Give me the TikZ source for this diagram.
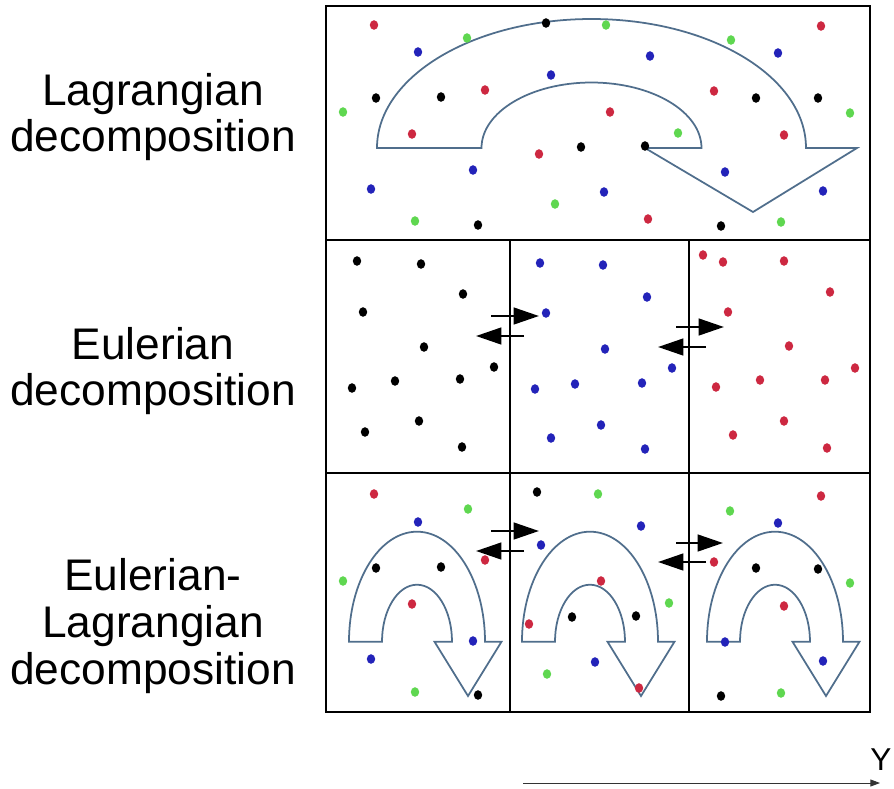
\documentclass[tikz,border=0pt]{standalone}
\usepackage{fontspec}
\setmainfont{Liberation Sans}
\usepackage{xcolor}
\usepackage{tikz}
\usetikzlibrary{positioning,arrows.meta,calc}

\definecolor{ptred}{RGB}{205,40,65}
\definecolor{ptgreen}{RGB}{95,215,80}
\definecolor{ptblue}{RGB}{35,35,185}
\definecolor{flowblue}{RGB}{80,110,140}

\begin{document}
\begin{tikzpicture}[
    x=0.02cm, y=-0.02cm,
    panel/.style={draw, line width=1.6pt},
    flow/.style={draw=flowblue, line width=1pt, line join=miter},
    exchange/.style={-{Triangle[length=14.5pt, width=9.5pt]}, line width=1.5pt},
    axis/.style={-{Triangle[length=5.5pt, width=4pt]}, line width=0.5pt, black!80},
    label/.style={align=center, font=\fontsize{25.2}{26.7}\selectfont},
    >=Stealth
]
\useasboundingbox (0,0) rectangle (894,789);

% Labels
\node[label] (lagr) at (153,117) {Lagrangian\\decomposition};
\node[label] (euler) at (153,371) {Eulerian\\decomposition};
\node[label] (eulag) at (153,626) {Eulerian-\\Lagrangian\\decomposition};

% Panels and cell walls
\draw[panel] (326,6) rectangle (870,712);
\draw[panel] (326,240) -- (870,240);
\draw[panel] (326,473) -- (870,473);
\draw[panel] (510,240) -- (510,712);
\draw[panel] (689,240) -- (689,712);

% Large Lagrangian arrow
\draw[flow] (377,148) arc[start angle=180, end angle=360, x radius=214.5, y radius=129]
    -- (857,148) -- (753,212) -- (645,148) -- (701.5,148)
    arc[start angle=0, end angle=-180, x radius=110, y radius=65.5] -- cycle;

% Small arrows in each cell
\foreach \cx in {417,590,775}
    \draw[flow, shift={(\cx,641.7)}] (-68,0) arc[start angle=180, end angle=360, x radius=68, y radius=110]
        -- (84.5,0) -- (51,54.3) -- (17.5,0) -- (35,0)
        arc[start angle=0, end angle=-180, x radius=35, y radius=57] -- cycle;

% Particles
\foreach \x/\y in {374/25,485/90,714/91,821/26,610/112,412/134,784/135,539/154,648/219,
    703/255,723/262,784/261,830/292,728/312,789/346,855/368,716/387,760/380,825/380,784/421,733/435,827/448,
    374/494,485/560,412/604,601/581,529/624,639/688,821/496,714/562,784/606}
    \fill[ptred] (\x,\y) ellipse[x radius=4.2, y radius=4.8];
\foreach \x/\y in {467/38,606/25,731/40,343/112,850/113,678/133,555/204,415/221,781/222,
    468/509,343/581,415/692,598/494,669/603,547/674,730/511,850/583,781/693}
    \fill[ptgreen] (\x,\y) ellipse[x radius=4.2, y radius=4.8];
\foreach \x/\y in {418/52,650/56,778/53,551/75,473/170,725/172,371/189,604/192,823/191,
    540/263,603/265,647/297,546/313,605/349,672/368,535/389,575/384,642/383,601/425,551/438,645/449,
    418/522,473/641,371/659,641/526,541/545,595/662,778/523,725/642,823/661}
    \fill[ptblue] (\x,\y) ellipse[x radius=4.2, y radius=4.8];
\foreach \x/\y in {546/23,376/98,441/97,756/98,818/98,581/147,645/146,478/225,721/226,
    357/261,421/264,463/294,363/312,424/347,494/367,352/388,395/381,460/379,365/432,419/421,462/447,
    376/568,441/567,478/695,537/492,572/617,636/616,756/568,818/569,721/696}
    \fill[black] (\x,\y) ellipse[x radius=4.2, y radius=4.8];

% Exchange across cell walls
\foreach \xs/\xe/\y in {491/539/316, 524/476/336, 676/724/327, 706/658/347,
    491/539/531, 524/476/551, 676/723/543, 706/658/562}
    \draw[exchange] (\xs,\y) -- (\xe,\y);

% Y direction
\coordinate (ystart) at (523,783);
\coordinate (yend) at (880,783);
\draw[axis] (ystart) -- (yend);
\node[font=\fontsize{18}{20}\selectfont] (ylab) at (881,760) {Y};

\end{tikzpicture}
\end{document}
